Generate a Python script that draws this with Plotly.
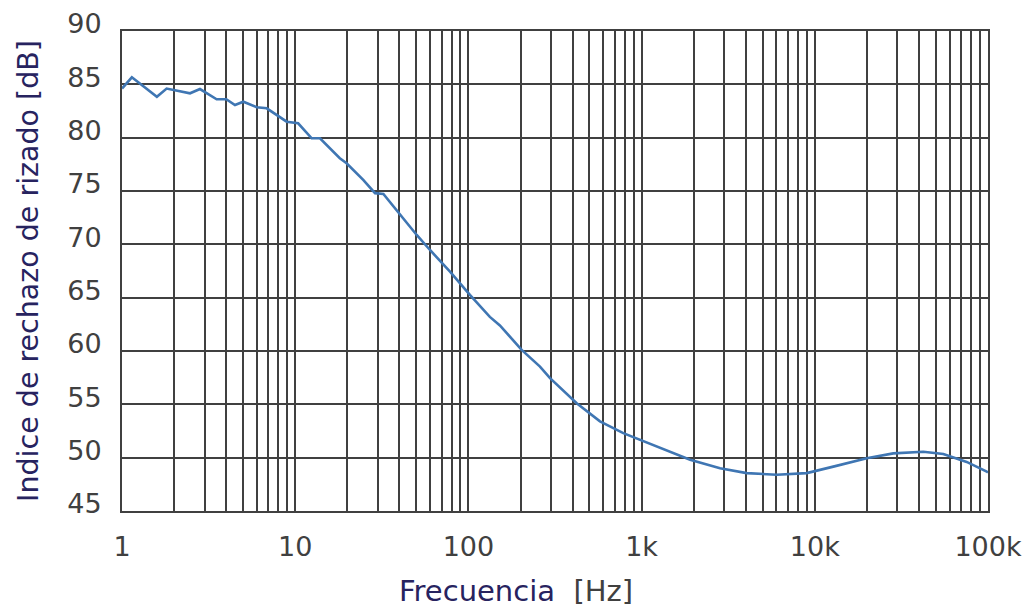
import plotly.graph_objects as go

freq_hz = [1, 1.14, 1.59, 1.81, 2.47, 2.82, 3.52, 4.0, 4.49, 5.02, 6.0, 6.85, 8.93, 10.4,
           12.45, 13.9, 18.1, 19.8, 24.7, 28.9, 32.3, 38.5, 50.3, 60, 78.3, 102, 133, 152,
           203, 259, 296, 422, 575, 784, 978, 1277, 1905, 2837, 4045, 6030, 8980, 12790,
           19950, 28400, 42300, 55200, 75300, 98300, 100000]
rejection_db = [84.6, 85.66, 83.84, 84.6, 84.16, 84.56, 83.6, 83.6, 83.06, 83.37, 82.85, 82.75,
                81.5, 81.35, 79.94, 79.94, 78.07, 77.6, 76.04, 74.8, 74.73, 73.2, 70.88, 69.47,
                67.44, 65.26, 63.2, 62.4, 60.1, 58.54, 57.45, 55.1, 53.4, 52.3, 51.67, 50.9,
                49.8, 49.0, 48.55, 48.4, 48.55, 49.16, 49.95, 50.4, 50.56, 50.35, 49.6, 48.7, 48.6]

decades = [1, 10, 100, 1000, 10000, 100000]
decade_labels = ["1", "10", "100", "1k", "10k", "100k"]
y_ticks = [45, 50, 55, 60, 65, 70, 75, 80, 85, 90]

x_tickvals, x_ticktext = [], []
for d, lab in zip(decades, decade_labels):
    x_tickvals.append(d)
    x_ticktext.append(lab)
    if d < 100000:
        for m in range(2, 10):
            x_tickvals.append(d * m)
            x_ticktext.append("")

grid_col = "#404040"
navy = "#27235f"
label_col = "#404040"
font_family = "DejaVu Sans, Verdana, sans-serif"

fig = go.Figure()
fig.add_trace(go.Scatter(x=freq_hz, y=rejection_db, mode="lines",
                         line=dict(color="#3f76b3", width=2.6), showlegend=False))

fig.update_layout(
    width=1030, height=610,
    margin=dict(l=122, r=42, t=31, b=99),
    paper_bgcolor="white", plot_bgcolor="white",
    font=dict(family=font_family, color=label_col, size=27),
    xaxis=dict(type="log", range=[0, 5], tickvals=x_tickvals, ticktext=x_ticktext,
               showgrid=True, gridcolor=grid_col, gridwidth=2,
               showline=True, linecolor=grid_col, linewidth=2, mirror=True,
               ticks="", ticklabelstandoff=11, automargin=False,
               tickfont=dict(size=27, color=label_col),
               zeroline=False),
    yaxis=dict(range=[45, 90], tickvals=y_ticks,
               showgrid=True, gridcolor=grid_col, gridwidth=2,
               showline=True, linecolor=grid_col, linewidth=2, mirror=True,
               ticks="", ticklabelstandoff=13, ticklabelshift=-7, automargin=False,
               tickfont=dict(size=27, color=label_col),
               title=dict(text="Indice de rechazo de rizado [dB]",
                          font=dict(size=28.5, color=navy), standoff=20),
               zeroline=False),
    annotations=[dict(text=f"<span style='color:{navy}'>Frecuencia</span>  [Hz]",
                      xref="paper", yref="paper", x=0.4555, y=0,
                      xanchor="center", yanchor="top", yshift=-61, showarrow=False,
                      font=dict(size=29, color=label_col, family=font_family))],
)
fig.write_html("out.html", config={"displayModeBar": False},
               post_script="document.body.style.margin='0';document.body.style.overflow='hidden';")
